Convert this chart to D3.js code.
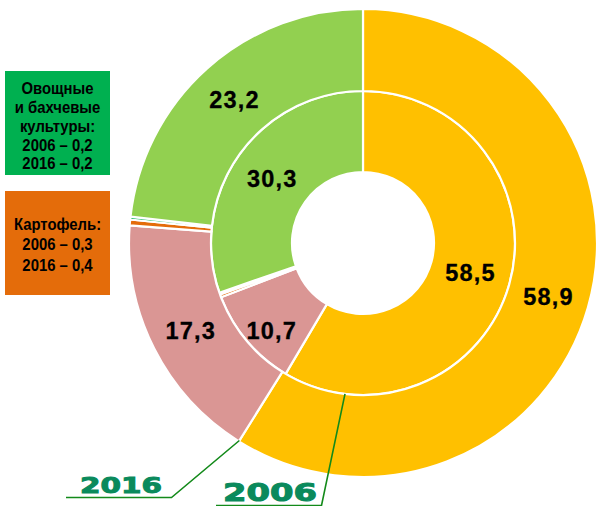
<!DOCTYPE html>
<html><head><meta charset="utf-8">
<script src="https://cdn.jsdelivr.net/npm/d3@7/dist/d3.min.js"></script>
<style>body{margin:0;background:#fff}svg{display:block}</style>
</head><body>
<svg id="c" width="597" height="506"></svg>
<script>
const categories = ["Зерновые", "Технические", "Картофель", "Овощные и бахчевые", "Кормовые"];
const values2006 = [58.5, 10.7, 0.3, 0.2, 30.3];
const values2016 = [58.9, 17.3, 0.4, 0.2, 23.2];
const colors = ["#FFC000", "#DA9694", "#E46C0A", "#00B050", "#92D050"];
const years = ["2006", "2016"];
const vegLines = ["Овощные", "и бахчевые", "культуры:", "2006 – 0,2", "2016 – 0,2"];
const potatoLines = ["Картофель:", "2006 – 0,3", "2016 – 0,4"];
const labelMin = 5;

const svg = d3.select("#c");
const cx = 363, cy = 243;
const r0 = 71, r1 = 152, r2 = 234;
const g = svg.append("g").attr("transform", `translate(${cx},${cy})`);
const pie = d3.pie().sort(null).startAngle(0).endAngle(2 * Math.PI);
const fmt = v => String(v).replace(".", ",");

function ring(vals, ri, ro, cls) {
  const arc = d3.arc().innerRadius(ri).outerRadius(ro);
  const arcs = pie(vals);
  const gg = g.append("g").attr("class", cls);
  gg.selectAll("path").data(arcs).join("path")
    .attr("d", arc).attr("fill", (d, i) => colors[i])
    .attr("stroke", "#fff").attr("stroke-width", 2.2).attr("stroke-linejoin", "round");
  return { arc, arcs, gg };
}
const inner = ring(values2006, r0, r1, "inner");
const outer = ring(values2016, r1, r2, "outer");

function labels(rg, nudge) {
  rg.gg.selectAll("text").data(rg.arcs.filter(d => d.data >= labelMin)).join("text")
    .attr("transform", d => {
      const [x, y] = rg.arc.centroid(d);
      const n = nudge(d);
      return `translate(${x + n[0]},${y + n[1]})`;
    })
    .attr("text-anchor", "middle").attr("dy", "0.36em")
    .attr("font-family", "Liberation Sans, Arial, sans-serif")
    .attr("font-weight", "bold").attr("font-size", 23.5).attr("letter-spacing", 1.2)
    .attr("fill", "#000").attr("stroke", "#000").attr("stroke-width", 0.3)
    .text(d => fmt(d.data));
}
labels(outer, d => [0, 0]);
labels(inner, d => d.index === 1 ? [-6, 16] : [0, 0]);

// legend boxes
function box(y, h, fill, lines, y0, step) {
  svg.append("rect").attr("x", 5).attr("y", y).attr("width", 105).attr("height", h).attr("fill", fill);
  svg.append("g").attr("transform", "translate(57.5,0) scale(0.93,1)")
    .selectAll("text").data(lines).join("text")
    .attr("x", 0).attr("y", (d, i) => y0 + i * step)
    .attr("text-anchor", "middle").attr("dy", "0.36em")
    .attr("font-family", "Liberation Sans, Arial, sans-serif")
    .attr("font-weight", "bold").attr("font-size", 16).attr("fill", "#000")
    .text(d => d);
}
box(71, 104, "#00B050", vegLines, 88.5, 18.8);
box(191, 104, "#E46C0A", potatoLines, 224, 20.5);

// year callouts
const lineColor = "#138A1A";
function callout(year, tipAngleArc, tipR, corner, leftX, tx, ty, tw, fs) {
  const a = tipAngleArc;
  const tip = [cx + tipR * Math.sin(a), cy - tipR * Math.cos(a)];
  svg.append("path")
    .attr("d", `M${leftX},${corner[1]}L${corner[0]},${corner[1]}L${tip[0]},${tip[1]}`)
    .attr("fill", "none").attr("stroke", lineColor).attr("stroke-width", 1.6);
  svg.append("text").attr("x", tx).attr("y", ty)
    .attr("font-family", "DejaVu Sans, sans-serif").attr("font-weight", "bold")
    .attr("font-size", fs).attr("fill", "#0A8A5C")
    .attr("stroke", "#0A8A5C").attr("stroke-width", 1)
    .attr("textLength", tw).attr("lengthAdjust", "spacingAndGlyphs")
    .text(year);
}
callout(years[1], outer.arcs[1].startAngle, r2 - 1, [171.5, 497.5], 66, 80, 493, 82, 22);
callout(years[0], Math.PI + Math.asin(18 / r1), r1, [321.5, 505.5], 216, 223, 501, 94, 24);
</script>
</body></html>
